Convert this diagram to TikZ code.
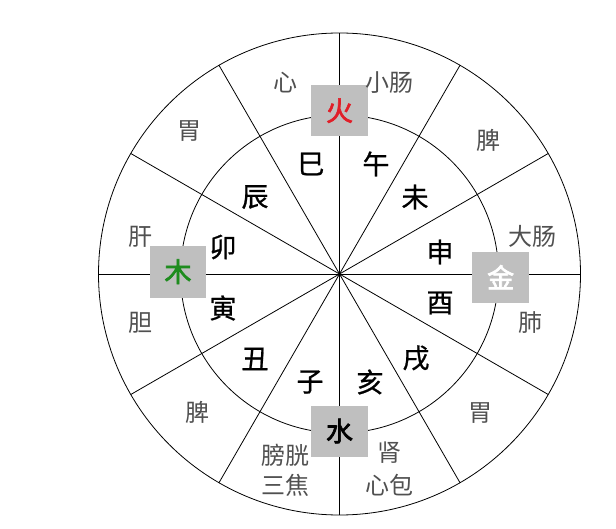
\documentclass[tikz,border=0pt]{standalone}
\usepackage{fontspec}
\usetikzlibrary{calc}
\newfontfamily\cjk{Noto Sans CJK SC}
\newfontfamily\cjkm[FakeBold=0.8]{Noto Sans CJK SC}
\newfontfamily\cjkb[FakeBold=2.5]{Noto Sans CJK SC}
\definecolor{boxgray}{RGB}{191,191,191}
\definecolor{woodgreen}{RGB}{30,140,30}
\definecolor{firered}{RGB}{225,30,40}
\definecolor{organgray}{RGB}{80,80,80}
\begin{document}
\begin{tikzpicture}[x=1pt,y=-1pt,
  organ/.style={font=\cjk\fontsize{24}{28}\selectfont, text=organgray, inner sep=0pt},
  branch/.style={font=\cjkm\fontsize{27}{30}\selectfont, text=black, inner sep=0pt},
  elem/.style={fill=boxgray, minimum width=57pt, minimum height=51pt, inner sep=0pt, font=\cjkb\fontsize{27}{30}\selectfont},
  ring/.style={draw=black, line width=0.8pt}]
\useasboundingbox (0,0) rectangle (616,529);
\coordinate (O) at (339.5,274);
\draw[ring] (O) circle[radius=241pt];
\draw[ring] (O) circle[radius=159pt];
\foreach \a in {0,30,...,150}{
  \coordinate (s\a) at ($(O)+(\a:241)$);
  \coordinate (e\a) at ($(O)+(\a+180:241)$);
  \draw[ring] (s\a) -- (e\a);
}
% element boxes
\node[elem, text=firered] (fire) at (339.5,110.7) {火};
\node[elem, text=black] (water) at (339.5,431) {水};
\node[elem, text=woodgreen, minimum width=56pt, minimum height=52pt] (wood) at (178,271.7) {木};
\node[elem, text=white, minimum width=57pt, minimum height=51pt] (metal) at (500.7,277.2) {金};
% earthly branches
\node[branch] (si) at (311,164) {巳};
\node[branch] (wu) at (376,164) {午};
\node[branch] (chen) at (255,197) {辰};
\node[branch] (wei) at (415,197) {未};
\node[branch] (mao) at (223,247) {卯};
\node[branch] (shen) at (440,252) {申};
\node[branch] (yin) at (223,308) {寅};
\node[branch] (you) at (440,303) {酉};
\node[branch] (chou) at (255,359) {丑};
\node[branch] (xu) at (416,358) {戌};
\node[branch] (zi) at (310,382) {子};
\node[branch] (hai) at (370,382) {亥};
% organs
\node[organ] (xin) at (285,83) {心};
\node[organ] (xiaochang) at (389,83) {小肠};
\node[organ] (wei1) at (189,131) {胃};
\node[organ] (pi1) at (488,140) {脾};
\node[organ] (gan) at (140,237) {肝};
\node[organ] (dachang) at (532,236) {大肠};
\node[organ] (dan) at (140,323) {胆};
\node[organ] (fei) at (530,323) {肺};
\node[organ] (pi2) at (197,412) {脾};
\node[organ] (wei2) at (480,413) {胃};
\node[organ] (pangguang) at (285,455) {膀胱};
\node[organ] (sanjiao) at (285,485) {三焦};
\node[organ] (shen2) at (389,453) {肾};
\node[organ] (xinbao) at (389,485) {心包};
\end{tikzpicture}
\end{document}
